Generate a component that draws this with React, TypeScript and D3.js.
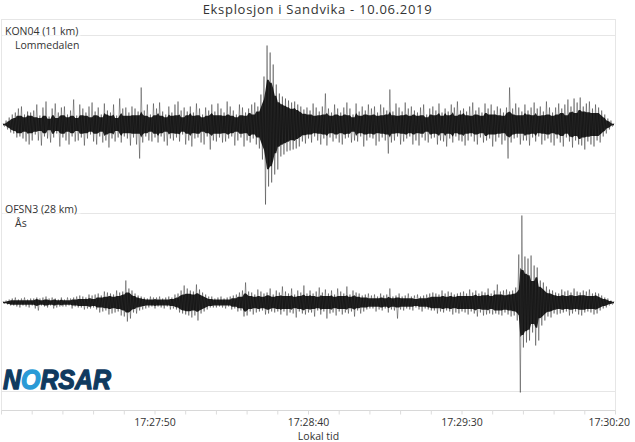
import React from "react";
import * as d3 from "d3";

// ---------- data ----------
const chartTitle = "Eksplosjon i Sandvika - 10.06.2019";
const stationNames = ["KON04 (11 km)", "OFSN3 (28 km)"];
const placeNames = ["Lommedalen", "Ås"];
const tickLabels = ["17:27:50", "17:28:40", "17:29:30", "17:30:20"];
const axisTitle = "Lokal tid";
const windowStart = "17:27:00";
const windowEnd = "17:30:20";
const minorTickStep = 10; // seconds
const sampleStart = 0.5; // seconds after window start
const sampleStep = 0.5; // seconds between (decimated) samples

// decimated peak amplitudes (relative units), one value per 0.5 s
const kon04 = [
  1,-2,4,-5,7,-8,10,-9,12,-13,16,-12,18,-14,10,-17,13,-20,12,-16,
  14,-10,20,-16,9,-21,17,-12,23,-14,8,-18,16,-13,21,-9,12,-22,17,-13,
  18,-16,10,-20,14,-12,25,-17,9,-16,20,-13,16,-21,12,-14,18,-10,22,-17,
  13,-20,17,-12,10,-18,21,-16,14,-23,12,-14,20,-17,9,-13,26,-18,16,-12,
  17,-14,12,-21,18,-13,16,-20,13,-34,37,-18,14,-12,20,-16,10,-17,21,-13,
  16,-18,22,-12,13,-17,10,-21,18,-14,12,-16,20,-13,23,-17,14,-10,17,-20,
  13,-16,18,-22,12,-14,21,-13,16,-18,10,-20,17,-12,14,-25,20,-16,13,-17,
  21,-13,16,-18,12,-17,23,-14,18,-12,14,-21,10,-16,20,-13,17,-22,12,-16,
  16,-18,20,-14,22,-20,18,-24,30,-35,48,-80,79,-62,72,-58,60,-50,40,-45,
  31,-32,28,-30,26,-27,24,-26,22,-25,23,-24,20,-22,18,-17,15,-19,17,-14,
  14,-18,21,-12,17,-16,13,-20,18,-14,31,-21,16,-13,12,-17,20,-14,16,-18,
  12,-20,17,-14,22,-13,16,-18,10,-16,21,-17,13,-12,18,-22,14,-16,20,-13,
  16,-14,18,-21,12,-17,20,-13,17,-16,14,-29,35,-18,13,-16,21,-12,17,-20,
  13,-17,22,-14,16,-12,18,-20,14,-16,12,-21,17,-13,20,-16,10,-18,16,-14,
  18,-13,14,-20,21,-16,12,-17,16,-22,13,-14,20,-18,17,-12,23,-16,14,-17,
  16,-21,13,-16,18,-12,22,-17,14,-20,17,-13,12,-18,21,-16,16,-14,20,-22,
  14,-17,18,-13,16,-20,12,-16,17,-34,37,-18,16,-14,21,-13,17,-20,13,-16,
  20,-16,14,-21,17,-13,22,-17,16,-12,18,-20,13,-16,23,-14,17,-18,12,-21,
  17,-14,21,-18,16,-22,20,-13,25,-17,18,-23,26,-16,22,-20,27,-21,18,-25,
  21,-17,23,-20,16,-22,20,-16,17,-18,14,-12,10,-9,6,-5,4,-2,1,
];

const ofsn3 = [
  1,-1,2,-2,3,-3,4,-3,5,-4,3,-5,4,-3,5,-4,3,-5,4,-3,
  4,-6,5,-8,4,-3,5,-4,6,-5,4,-3,5,-6,4,-5,3,-4,5,-4,
  3,-4,5,-3,4,-6,5,-4,6,-5,7,-5,6,-7,5,-6,8,-6,7,-5,
  8,-7,9,-10,7,-9,11,-8,10,-12,9,-11,8,-10,12,-9,10,-13,11,-14,
  22,-19,14,-16,12,-10,9,-11,7,-8,6,-7,5,-6,4,-5,6,-4,5,-6,
  5,-4,6,-5,4,-6,5,-4,6,-7,5,-6,8,-7,9,-10,12,-11,17,-12,
  14,-13,12,-15,11,-13,18,-18,13,-11,10,-9,8,-7,6,-5,6,-5,4,-5,
  5,-4,6,-5,4,-6,5,-4,6,-7,7,-6,8,-9,10,-8,12,-14,20,-13,
  11,-9,10,-12,8,-10,13,-9,11,-8,9,-12,10,-11,14,-9,8,-10,12,-9,
  10,-12,16,-9,11,-13,9,-10,14,-11,8,-15,12,-9,10,-11,17,-12,9,-10,
  12,-10,9,-14,11,-8,15,-12,10,-9,13,-16,9,-11,12,-10,8,-13,14,-9,
  11,-12,9,-10,16,-11,8,-9,12,-14,10,-8,9,-11,7,-9,8,-7,9,-6,
  7,-6,8,-9,6,-7,9,-8,7,-6,8,-10,14,-7,6,-8,7,-16,9,-7,
  6,-8,7,-6,9,-7,6,-8,7,-5,8,-7,6,-9,7,-6,8,-7,9,-8,
  10,-8,9,-11,8,-9,12,-10,9,-8,11,-9,10,-12,8,-10,9,-11,10,-9,
  11,-10,9,-12,13,-9,10,-11,12,-14,9,-10,11,-13,10,-12,14,-11,9,-12,
  12,-11,18,-12,11,-13,12,-10,13,-12,11,-14,12,-13,15,-18,48,-90,87,-45,
  46,-40,44,-38,47,-30,37,-43,35,-38,22,-23,20,-18,16,-14,13,-15,12,-11,
  10,-12,9,-11,13,-10,11,-9,12,-13,10,-11,14,-9,11,-12,10,-13,12,-10,
  11,-9,13,-10,9,-12,10,-11,9,-8,7,-6,5,-5,4,-3,2,-2,1,
];

const traces = [kon04, ofsn3];
const ampExtent = 89;

// ---------- layout ----------
const W = 635;
const H = 442;
const plotLeft = 1.5;
const plotRight = 615.5;
const frameTop = 19.5;
const axisY = 410.5;
const panelTops = [35.5, 213.5];
const panelHeight = 178;
const font = "'Open Sans', 'Noto Sans', sans-serif";
const gridColor = "#e6e6e6";
const textColor = "#333333";

const toSec = (s: string) => {
  const [h, m, sec] = s.split(":").map(Number);
  return h * 3600 + m * 60 + sec;
};

export default function App() {
  const t0 = toSec(windowStart);
  const t1 = toSec(windowEnd);
  const x = d3.scaleLinear().domain([0, t1 - t0]).range([plotLeft, plotRight]);
  const minorTicks = d3.range(0, t1 - t0 + 0.001, minorTickStep);
  const majorTicks = tickLabels.map((l) => ({ label: l, t: toSec(l) - t0 }));

  const drawn = traces.map((vals, k) => {
    const y = d3
      .scaleLinear()
      .domain([-ampExtent, ampExtent])
      .range([panelTops[k] + panelHeight, panelTops[k]]);
    const tx = (i: number) => x(sampleStart + i * sampleStep);
    const line = d3
      .line<number>()
      .x((_, i) => tx(i))
      .y((d) => y(d));
    // dense core: where neighbouring swings overlap
    const core = (i: number) => {
      const a = Math.abs(vals[Math.max(0, i - 1)]);
      const b = Math.abs(vals[i]);
      const c = Math.abs(vals[Math.min(vals.length - 1, i + 1)]);
      return Math.min(a, b, c) * 0.72;
    };
    const area = d3
      .area<number>()
      .x((_, i) => tx(i))
      .y0((_, i) => y(-core(i)))
      .y1((_, i) => y(core(i)));
    return { line: line(vals) || "", area: area(vals) || "" };
  });

  return (
    <svg
      width={W}
      height={H}
      style={{ position: "absolute", left: 0, top: 0, background: "#fff" }}
    >
      <rect x={0} y={0} width={W} height={H} fill="#fff" />
      {/* frame */}
      <rect
        x={plotLeft}
        y={frameTop}
        width={plotRight - plotLeft}
        height={axisY - frameTop}
        fill="none"
        stroke={gridColor}
        strokeWidth={1}
      />
      {panelTops.map((pt, k) => (
        <line key={"pt" + k} x1={plotLeft} x2={plotRight} y1={pt} y2={pt} stroke={gridColor} />
      ))}
      <line
        x1={plotLeft}
        x2={plotRight}
        y1={panelTops[1] + panelHeight}
        y2={panelTops[1] + panelHeight}
        stroke={gridColor}
      />
      {/* x axis */}
      <line x1={plotLeft} x2={plotRight} y1={axisY} y2={axisY} stroke="#d8d8d8" />
      {minorTicks.map((t) => (
        <line key={"mt" + t} x1={x(t)} x2={x(t)} y1={axisY} y2={axisY + 4} stroke="#dcdcdc" />
      ))}
      {majorTicks.map((m, i) => {
        const last = i === majorTicks.length - 1;
        return (
          <text
            key={m.label}
            x={last ? 630 : x(m.t)}
            y={426}
            textAnchor={last ? "end" : "middle"}
            fontFamily={font}
            fontSize={10.5}
            fill={textColor}
          >
            {m.label}
          </text>
        );
      })}
      <text x={(plotLeft + plotRight) / 2 + 10} y={440} textAnchor="middle" fontFamily={font} fontSize={10.5} fill={textColor}>
        {axisTitle}
      </text>
      {/* traces */}
      {drawn.map((d, k) => (
        <g key={"tr" + k}>
          <path d={d.area} fill="#000" fillOpacity={0.85} stroke="none" />
          <path d={d.line} fill="none" stroke="#000" strokeWidth={0.5} strokeOpacity={0.75} />
        </g>
      ))}
      {/* labels */}
      {stationNames.map((s, k) => (
        <g key={"lab" + k}>
          <rect x={plotLeft + 1} y={panelTops[k] - 12} width={78} height={12} fill="#fff" />
          <text x={5} y={panelTops[k] - 0.5} fontFamily={font} fontSize={10.5} fill={textColor}>
            {s}
          </text>
          <text x={15} y={panelTops[k] + 13} fontFamily={font} fontSize={10.5} fill={textColor}>
            {placeNames[k]}
          </text>
        </g>
      ))}
      {/* title */}
      <text
        x={W / 2}
        y={14}
        textAnchor="middle"
        fontFamily={font}
        fontSize={13}
        letterSpacing={0.7}
        fill={textColor}
      >
        {chartTitle}
      </text>
      {/* logo */}
      <text
        x={3}
        y={389}
        fontFamily="'Liberation Sans', Arial, sans-serif"
        fontWeight={900}
        fontStyle="italic"
        fontSize={27}
        textLength={108}
        lengthAdjust="spacingAndGlyphs"
        fill="#0f3a5f"
        stroke="#0f3a5f"
        strokeWidth={1.3}
        strokeLinejoin="round"
      >
        N<tspan fill="#2a9ad6" stroke="#2a9ad6">O</tspan>RSAR
      </text>
    </svg>
  );
}
